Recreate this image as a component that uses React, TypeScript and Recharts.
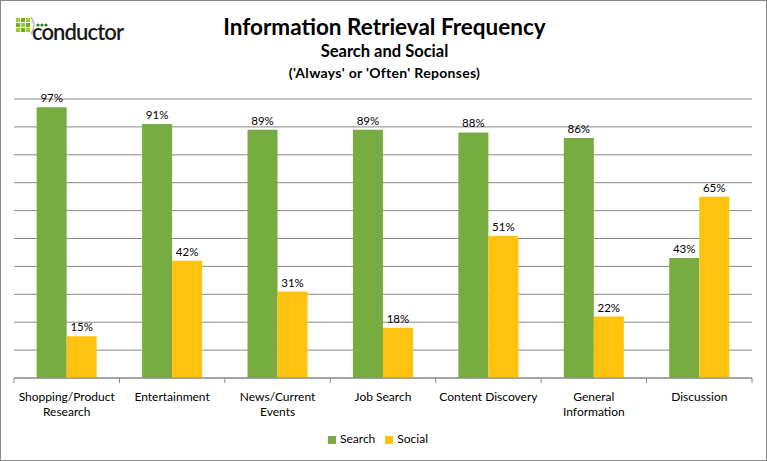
import React from 'react';
import { BarChart, Bar, XAxis, YAxis, CartesianGrid, Legend, LabelList } from 'recharts';

const categories = [
  'Shopping/Product Research',
  'Entertainment',
  'News/Current Events',
  'Job Search',
  'Content Discovery',
  'General Information',
  'Discussion',
];
const tickLines: string[][] = [
  ['Shopping/Product', 'Research'],
  ['Entertainment'],
  ['News/Current', 'Events'],
  ['Job Search'],
  ['Content Discovery'],
  ['General', 'Information'],
  ['Discussion'],
];
const searchValues = [97, 91, 89, 89, 88, 86, 43];
const socialValues = [15, 42, 31, 18, 51, 22, 65];
const yTicks = [0, 10, 20, 30, 40, 50, 60, 70, 80, 90, 100];

const data = categories.map((c, i) => ({ name: c, search: searchValues[i], social: socialValues[i] }));

const W = 767;
const H = 461;
const margin = { top: 99, right: 15, left: 14, bottom: 38 };
const band = (W - margin.left - margin.right) / categories.length;
const FONT = 'Lato, "Open Sans", sans-serif';

const CategoryTick = (props: any) => {
  const { x, y, index } = props;
  const lines = tickLines[index] || [];
  const left = x - band / 2;
  return (
    <g>
      <line x1={left} y1={y - 8} x2={left} y2={y - 3} stroke="#888" />
      {index === categories.length - 1 && (
        <line x1={left + band} y1={y - 8} x2={left + band} y2={y - 3} stroke="#888" />
      )}
      {lines.map((l, i) => (
        <text key={i} x={x} y={y + 15 + i * 15} textAnchor="middle" fontSize={12} fill="#000" fontFamily={FONT}>
          {l}
        </text>
      ))}
    </g>
  );
};

const Logo = () => (
  <svg width={140} height={50} style={{ position: 'absolute', left: 0, top: 0 }}>
    {[0, 1, 2].map((r) =>
      [0, 1, 2].map((c) => (
        <rect key={`${r}-${c}`} x={15 + c * 5} y={17 + r * 5} width={4} height={4}
          fill={(r + c) % 2 === 0 ? '#9acd32' : '#6ab023'} />
      ))
    )}
    <path d="M30 16 Q36 24 30 33" stroke="#bbb" strokeWidth={1.5} fill="none" />
    {[0, 1, 2].map((i) => (
      <circle key={i} cx={37 + i * 4} cy={24} r={1.6} fill="#2e7d1f" />
    ))}
    <text x={31} y={39} fontSize={22} fontWeight={600} fontFamily={FONT} fill="#1a1a1a" letterSpacing={-0.9}>conductor</text>
    <text x={118} y={32} fontSize={5} fill="#555">.</text>
  </svg>
);

export default function App() {
  return (
    <div style={{ position: 'absolute', left: 0, top: 0, width: W, height: H, background: '#fff', boxSizing: 'border-box', border: '1px solid #888', fontFamily: FONT, overflow: 'hidden' }}>
      <Logo />
      <div style={{ position: 'absolute', top: 13, left: 0, width: W, textAlign: 'center', fontWeight: 700, color: '#000' }}>
        <div style={{ fontSize: 22.5, lineHeight: '26px' }}>Information Retrieval Frequency</div>
        <div style={{ fontSize: 16.5, lineHeight: '22px' }}>Search and Social</div>
        <div style={{ fontSize: 14, lineHeight: '22px', letterSpacing: 0.3 }}>('Always' or 'Often' Reponses)</div>
      </div>
      <div style={{ position: 'absolute', left: -1, top: -1 }}>
        <BarChart width={W} height={H} data={data} margin={margin} barCategoryGap="21.5%" barGap={0}>
          <CartesianGrid vertical={false} stroke="#888" />
          <YAxis hide domain={[0, 100]} ticks={yTicks} />
          <XAxis dataKey="name" interval={0} tickLine={false} stroke="#888" tick={<CategoryTick />} />
          <Legend
            verticalAlign="bottom"
            iconType="square"
            iconSize={8}
            wrapperStyle={{ bottom: 15, fontSize: 12, fontFamily: FONT }}
            formatter={(v: string) => <span style={{ color: '#000' }}>{v}</span>}
          />
          <Bar dataKey="search" name="Search" fill="#77ac41" isAnimationActive={false}>
            <LabelList dataKey="search" position="top" offset={5} formatter={(v: any) => `${v}%`} fontSize={11.5} fill="#000" fontFamily={FONT} />
          </Bar>
          <Bar dataKey="social" name="Social" fill="#ffc20e" isAnimationActive={false}>
            <LabelList dataKey="social" position="top" offset={5} formatter={(v: any) => `${v}%`} fontSize={11.5} fill="#000" fontFamily={FONT} />
          </Bar>
        </BarChart>
      </div>
    </div>
  );
}
